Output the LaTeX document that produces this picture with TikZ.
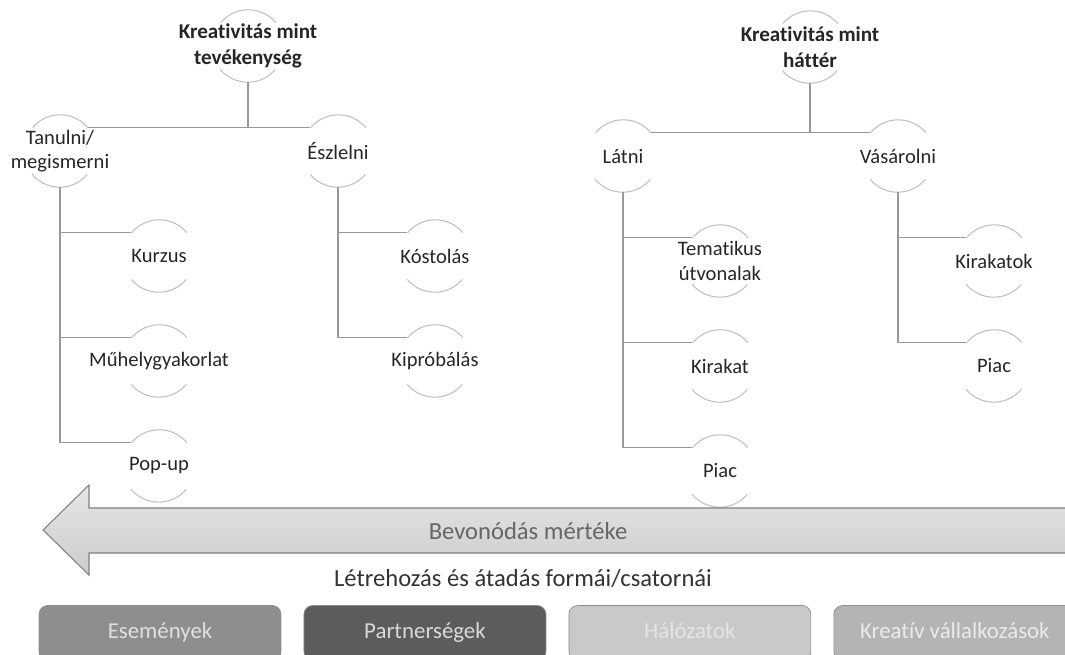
\documentclass[tikz,border=0pt]{standalone}
\usepackage{fontspec}
\setmainfont{Carlito}[Ligatures=NoCommon]
\usetikzlibrary{positioning}

\definecolor{esemeny}{HTML}{8E8E8E}
\definecolor{partner}{HTML}{5C5C5C}
\definecolor{halozat}{HTML}{C9C9C9}
\definecolor{kreativ}{HTML}{B4B4B4}

\begin{document}
\begin{tikzpicture}[x=0.02cm, y=-0.02cm, node distance=2.1cm, on grid,
    bub/.style={circle, minimum size=1.44cm, inner sep=0pt},
    txt/.style={font=\fontsize{11.7}{14}\selectfont, text=black!85, align=center},
    head/.style={font=\bfseries\fontsize{12}{14.5}\selectfont, text=black!85, align=center},
    rim/.style={draw=black!25, line width=0.6pt},
    link/.style={draw=black!40, line width=0.6pt},
    chan/.style={rounded corners=5pt, minimum width=4.84cm, minimum height=1.1cm,
        text height=1.6ex, text depth=0.3ex,
        draw=black!45, line width=0.4pt, font=\fontsize{13}{15}\selectfont}]

    \useasboundingbox (0,0) rectangle (1065,654);
    \clip (0,0) rectangle (1065,654);

    % tevekenyseg
    \node[bub, label={[head]center:{Kreativitás mint\\tevékenység}}] (tev) at (248,46) {};
    \node[bub, label={[txt]center:{Tanulni/\\megismerni}}] (tanul) at (60,151) {};
    \node[bub, label={[txt]center:Észlelni}] (eszl) at (338,151) {};
    \node[bub, label={[txt]center:Kurzus}] (kurzus) at (159,256) {};
    \node[bub, below=of kurzus, label={[txt]center:Műhelygyakorlat}] (muhely) {};
    \node[bub, below=of muhely, label={[txt]center:Pop-up}] (popup) {};
    \node[bub, label={[txt]center:Kóstolás}] (kost) at (435,256) {};
    \node[bub, below=of kost, label={[txt]center:Kipróbálás}] (kipr) {};

    % hatter
    \node[bub, label={[head]center:{Kreativitás mint\\háttér}}] (hatter) at (810,47) {};
    \node[bub, label={[txt]center:Látni}] (latni) at (623,156) {};
    \node[bub, label={[txt]center:Vásárolni}] (vasar) at (898,156) {};
    \node[bub, label={[txt]center:{Tematikus\\útvonalak}}] (tema) at (720,261) {};
    \node[bub, below=of tema, label={[txt]center:Kirakat}] (kirakat) {};
    \node[bub, below=of kirakat, label={[txt]center:Piac}] (piac) {};
    \node[bub, label={[txt]center:Kirakatok}] (kirakatok) at (994,261) {};
    \node[bub, below=of kirakatok, label={[txt]center:Piac}] (piac2) {};

    \foreach \n in {tev, tanul, eszl, kurzus, muhely, popup, kost, kipr,
                    hatter, latni, vasar, tema, kirakat, piac, kirakatok, piac2} {
        \draw[rim] (\n.40) arc[start angle=40, end angle=140, radius=0.72cm];
        \draw[rim] (\n.220) arc[start angle=220, end angle=320, radius=0.72cm];
    }

    \draw[link] (tev.south) -- (tev.south |- tanul.40);
    \draw[link] (tanul.40) -- (eszl.140);
    \foreach \c in {kurzus, muhely, popup}
        \draw[link] (tanul.south) |- (\c.140);
    \foreach \c in {kost, kipr}
        \draw[link] (eszl.south) |- (\c.140);

    \draw[link] (hatter.south) -- (hatter.south |- latni.40);
    \draw[link] (latni.40) -- (vasar.140);
    \foreach \c in {tema, kirakat, piac}
        \draw[link] (latni.south) |- (\c.140);
    \foreach \c in {kirakatok, piac2}
        \draw[link] (vasar.south) |- (\c.140);

    % bevonodas
    \path[draw=black!50, line width=0.6pt, top color=black!10, bottom color=black!20]
        (1075,508) -- (89,508) -- (89,485) -- (43,530) -- (89,575) -- (89,553) -- (1075,553) -- cycle;
    \node[font=\fontsize{14}{16}\selectfont, text=black!60] (bevon) at (528,531) {Bevonódás mértéke};
    \node[font=\fontsize{14}{16}\selectfont, text=black!80] (letre) at (523,578) {Létrehozás és átadás formái/csatornái};

    % csatornak
    \node[chan, fill=esemeny, text=white!88!black] (esem) at (160,633) {Események};
    \node[chan, right=5.3cm of esem, fill=partner, text=white!85!black] (partn) {Partnerségek};
    \node[chan, right=5.3cm of partn, fill=halozat, text=white!90!black] (haloz) {Hálózatok};
    \node[chan, right=5.3cm of haloz, fill=kreativ, text=white!92!black] (kreat) {Kreatív vállalkozások};

\end{tikzpicture}
\end{document}
